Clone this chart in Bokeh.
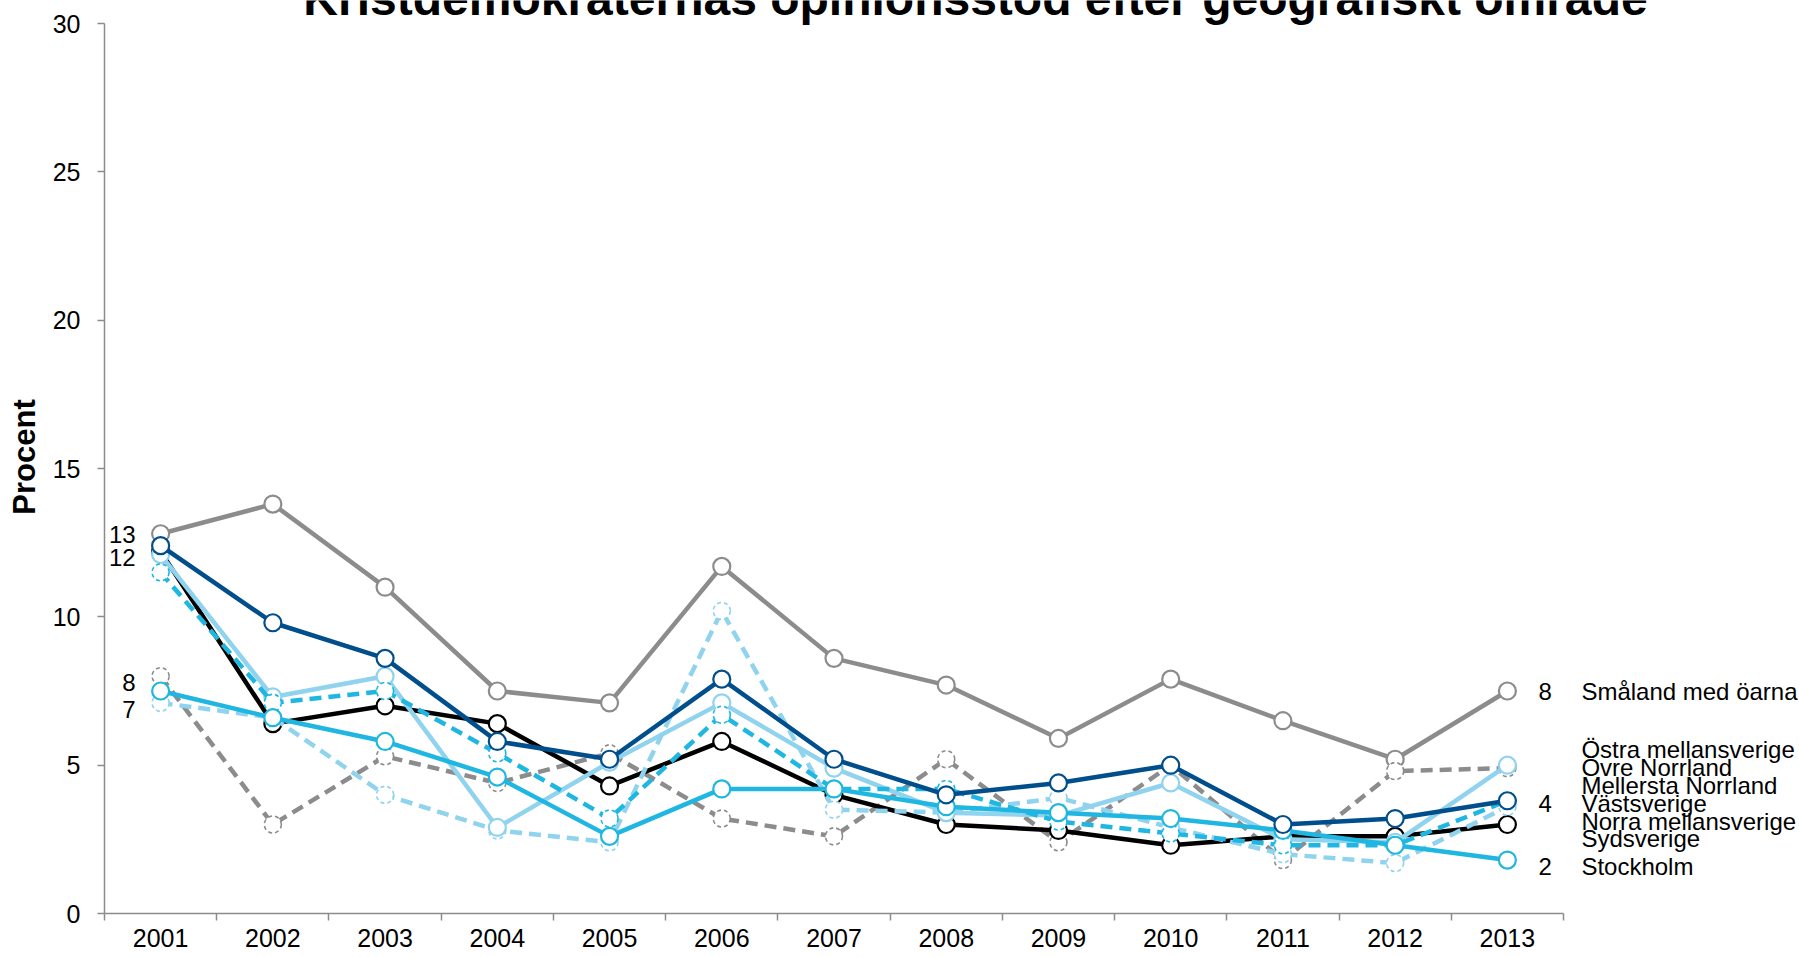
from bokeh.plotting import figure
from bokeh.models import FixedTicker, Range1d
from bokeh.embed import file_html
from bokeh.resources import INLINE
from bokeh.core.properties import value

# ---------------- data ----------------
years = list(range(2001, 2014))
title_text = "Kristdemokraternas opinionsstöd efter geografiskt område"
y_label = "Procent"
y_ticks = [0, 5, 10, 15, 20, 25, 30]

smaland = [12.8, 13.8, 11.0, 7.5, 7.1, 11.7, 8.6, 7.7, 5.9, 7.9, 6.5, 5.2, 7.5]
ovre_norrland = [8.0, 3.0, 5.3, 4.4, 5.4, 3.2, 2.6, 5.2, 2.4, 5.0, 1.8, 4.8, 4.9]
sydsverige = [12.2, 6.4, 7.0, 6.4, 4.3, 5.8, 4.0, 3.0, 2.8, 2.3, 2.6, 2.6, 3.0]
norra_mellansverige = [7.1, 6.6, 4.0, 2.8, 2.4, 10.2, 3.5, 3.4, 3.9, 2.9, 2.0, 1.7, 3.6]
ostra_mellansverige = [12.1, 7.3, 8.0, 2.9, 5.1, 7.1, 4.9, 3.4, 3.3, 4.4, 2.5, 2.4, 5.0]
mellersta_norrland = [11.5, 7.1, 7.5, 5.4, 3.2, 6.7, 4.2, 4.2, 3.1, 2.7, 2.3, 2.3, 3.8]
stockholm = [7.5, 6.6, 5.8, 4.6, 2.6, 4.2, 4.2, 3.6, 3.4, 3.2, 2.8, 2.3, 1.8]
vastsverige = [12.4, 9.8, 8.6, 5.8, 5.2, 7.9, 5.2, 4.0, 4.4, 5.0, 3.0, 3.2, 3.8]

# order of the region names in the right-hand label column (top -> bottom)
label_order = ["Småland med öarna", "Östra mellansverige", "Övre Norrland",
               "Mellersta Norrland", "Västsverige", "Norra mellansverige",
               "Sydsverige", "Stockholm"]

# ---------------- styles ----------------
GRAY = "#8C8C8C"
DARK = "#004E8C"
BLACK = "#000000"
LIGHT = "#8FD3EE"
CYAN = "#1FB7E1"
FONT = "Liberation Sans"

# drawing order (bottom -> top): name, values, color, dashed
series = [
    ("Småland med öarna", smaland, GRAY, False),
    ("Övre Norrland", ovre_norrland, GRAY, True),
    ("Sydsverige", sydsverige, BLACK, False),
    ("Norra mellansverige", norra_mellansverige, LIGHT, True),
    ("Östra mellansverige", ostra_mellansverige, LIGHT, False),
    ("Mellersta Norrland", mellersta_norrland, CYAN, True),
    ("Stockholm", stockholm, CYAN, False),
    ("Västsverige", vastsverige, DARK, False),
]
vals_by_name = {s[0]: s[1] for s in series}

# value labels at the start (name, pixel y-offset) and at the end
left_labeled = [("Småland med öarna", 1), ("Västsverige", 12),
                ("Övre Norrland", 6), ("Norra mellansverige", 7)]
right_labeled = ["Småland med öarna", "Västsverige", "Stockholm"]
# small pixel nudges of right-hand labels
label_nudge = {"Stockholm": 6}

# ---------------- geometry ----------------
W, H = 1799, 957
FRAME_LEFT = 104
PLOT_TOP = 23          # pixel row of y = 30
PLOT_BOTTOM = 913      # pixel row of y = 0
px_per_year = 1459 / 13.0
px_per_unit = (PLOT_BOTTOM - PLOT_TOP) / 30.0

x_start = years[0] - 0.5
x_end = x_start + (W - FRAME_LEFT) / px_per_year
y_end = 30 + PLOT_TOP / px_per_unit

p = figure(width=W, height=H, output_backend="svg", toolbar_location=None,
           x_range=Range1d(x_start, x_end), y_range=Range1d(0, y_end),
           min_border_left=FRAME_LEFT, min_border_right=0, min_border_top=0,
           min_border_bottom=H - PLOT_BOTTOM)
p.outline_line_color = None
p.xgrid.visible = False
p.ygrid.visible = False
p.background_fill_color = "white"
p.border_fill_color = "white"

xa = p.xaxis[0]
xa.ticker = FixedTicker(ticks=years,
                        minor_ticks=[y - 0.5 for y in years] + [years[-1] + 0.5])
xa.bounds = (years[0] - 0.5, years[-1] + 0.5)
xa.major_tick_line_color = None
xa.major_tick_out = 7
xa.major_tick_in = 0
xa.minor_tick_line_color = GRAY
xa.minor_tick_line_width = 1.5
xa.minor_tick_out = 7
xa.minor_tick_in = 0
xa.axis_line_color = GRAY
xa.axis_line_width = 1.5
xa.major_label_standoff = 8
xa.major_label_text_font = FONT
xa.major_label_text_font_size = "25px"
xa.major_label_text_color = "black"
xa.major_label_overrides = {yr: str(yr) for yr in years}

ya = p.yaxis[0]
ya.ticker = FixedTicker(ticks=y_ticks)
ya.bounds = (0, 30)
ya.minor_tick_line_color = None
ya.major_tick_out = 7
ya.major_tick_in = 0
ya.major_tick_line_color = GRAY
ya.major_tick_line_width = 1.5
ya.axis_line_color = GRAY
ya.axis_line_width = 1.5
ya.major_label_standoff = 17
ya.major_label_text_font = FONT
ya.major_label_text_font_size = "25px"
ya.major_label_text_color = "black"
ya.axis_label = y_label
ya.axis_label_text_font = FONT
ya.axis_label_text_font_size = "31px"
ya.axis_label_text_font_style = "bold"
ya.axis_label_text_color = "black"
ya.axis_label_standoff = 8

# ---------------- series ----------------
for name, vals, color, dashed in series:
    p.line(years, vals, line_color=color, line_width=4.5,
           line_dash="12 7" if dashed else "solid", line_join="round")
    p.scatter(years, vals, marker="circle", size=17, fill_color="white",
              line_color=color, line_width=1.6 if dashed else 2.2,
              line_dash="4 3" if dashed else "solid")

# ---------------- end label layout (spread overlapping labels) ----------------
GAP = 0.6
ends = sorted([(s[1][-1], s[0]) for s in series],
              key=lambda e: label_order.index(e[1]))
clusters = [[e] for e in ends]


def positions(cl):
    m = sum(v for v, _ in cl) / len(cl)
    n = len(cl)
    return [m + (n - 1) / 2 * GAP - i * GAP for i in range(n)]


changed = True
while changed:
    changed = False
    for i in range(len(clusters) - 1):
        if positions(clusters[i])[-1] - positions(clusters[i + 1])[0] < GAP - 1e-9:
            clusters[i] = clusters[i] + clusters[i + 1]
            del clusters[i + 1]
            changed = True
            break

slot = {}
for cl in clusters:
    for (v, n), y in zip(cl, positions(cl)):
        slot[n] = y

p.text(x=[years[-1]] * len(label_order), y=[slot[n] for n in label_order],
       text=label_order, x_offset=74,
       y_offset=[label_nudge.get(n, 0) for n in label_order],
       text_align="left", text_baseline="middle",
       text_font=value(FONT), text_font_size="24px", text_color="black")

p.text(x=[years[-1]] * len(right_labeled), y=[slot[n] for n in right_labeled],
       text=[str(round(vals_by_name[n][-1])) for n in right_labeled],
       x_offset=31, y_offset=[label_nudge.get(n, 0) for n in right_labeled],
       text_align="left", text_baseline="middle",
       text_font=value(FONT), text_font_size="24px", text_color="black")

p.text(x=[years[0]] * len(left_labeled),
       y=[vals_by_name[n][0] for n, _ in left_labeled],
       text=[str(round(vals_by_name[n][0])) for n, _ in left_labeled],
       x_offset=-25, y_offset=[o for _, o in left_labeled],
       text_align="right", text_baseline="middle",
       text_font=value(FONT), text_font_size="24px", text_color="black")

# ---------------- title (cut at the top edge as in the original) ----------------
p.text(x=[x_start + (975 - FRAME_LEFT) / px_per_year],
       y=[30 + (PLOT_TOP + 2) / px_per_unit],
       text=[title_text], text_align="center", text_baseline="alphabetic",
       text_font=value(FONT), text_font_size="48px", text_font_style="bold",
       text_color="black")

open("out.html", "w").write(file_html(p, INLINE))
